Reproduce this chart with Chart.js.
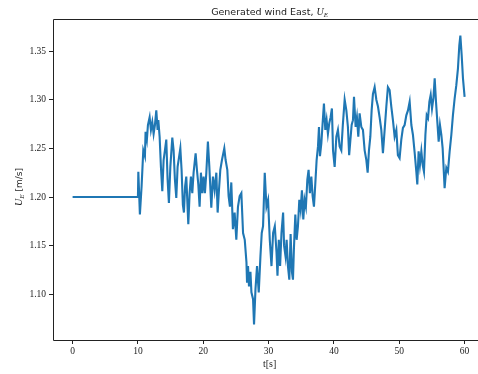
<!DOCTYPE html>
<html>
<head>
<meta charset="utf-8">
<script src="https://cdn.jsdelivr.net/npm/chart.js@4/dist/chart.umd.min.js"></script>
<style>
  html, body { margin: 0; padding: 0; background: #fff; overflow: hidden; }
  canvas { display: block; }
</style>
</head>
<body>
<canvas id="chart" width="478" height="374"></canvas>
<script>
// Time stamps of the generated wind record [s]
const timeS = [
  0, 10.0, 10.06, 10.30, 10.56, 10.82, 11.07, 11.17, 11.37, 11.53,
  11.79, 11.99, 12.20, 12.40, 12.60, 12.81, 13.01, 13.12, 13.32, 13.52,
  13.73, 13.93, 14.13, 14.34, 14.54, 14.74, 14.96, 15.26, 15.46, 15.66,
  15.87, 16.07, 16.27, 16.49, 16.68, 16.88, 17.04, 17.22, 17.40, 17.71,
  17.91, 18.11, 18.32, 18.52, 18.83, 19.03, 19.24, 19.44, 19.64, 19.85,
  20.05, 20.25, 20.47, 20.71, 20.93, 21.23, 21.48, 21.74, 22.00, 22.20,
  22.40, 22.61, 22.86, 23.22, 23.42, 23.68, 23.88, 24.08, 24.29, 24.54,
  24.80, 25.06, 25.31, 25.57, 25.83, 26.09, 26.35, 26.61, 26.70, 26.85,
  27.00, 27.22, 27.37, 27.62, 27.77, 27.99, 28.23, 28.49, 28.75, 28.95,
  29.15, 29.41, 29.67, 29.92, 30.18, 30.44, 30.69, 30.95, 31.21, 31.36,
  31.56, 31.76, 31.97, 32.22, 32.37, 32.59, 32.76, 32.96, 33.17, 33.37,
  33.57, 33.73, 33.87, 34.09, 34.29, 34.49, 34.70, 34.90, 35.10, 35.31,
  35.51, 35.71, 35.93, 36.12, 36.32, 36.54, 36.74, 36.94, 37.15, 37.35,
  37.56, 37.71, 37.86, 38.07, 38.27, 38.47, 38.68, 38.88, 39.08, 39.29,
  39.49, 39.69, 39.86, 40.11, 40.37, 40.61, 40.87, 41.13, 41.36, 41.64,
  41.90, 42.14, 42.33, 42.51, 42.71, 42.91, 43.07, 43.32, 43.52, 43.73,
  43.93, 44.19, 44.44, 44.70, 44.96, 45.16, 45.36, 45.57, 45.77, 45.97,
  46.23, 46.49, 46.74, 46.99, 47.25, 47.50, 47.76, 48.02, 48.26, 48.52,
  48.78, 49.03, 49.29, 49.55, 49.79, 50.05, 50.31, 50.56, 50.82, 51.08,
  51.33, 51.59, 51.85, 52.09, 52.35, 52.61, 52.76, 52.96, 53.16, 53.38,
  53.58, 53.78, 54.00, 54.20, 54.40, 54.61, 54.81, 55.01, 55.23, 55.42,
  55.62, 55.83, 56.03, 56.23, 56.44, 56.64, 56.84, 56.94, 57.20, 57.45,
  57.71, 57.97, 58.21, 58.47, 58.73, 58.98, 59.19, 59.35, 59.55, 59.75,
  60.00
];

// East wind component U_E [m/s]
const windEast = [
  1.200, 1.200, 1.226, 1.182, 1.211, 1.248, 1.242, 1.267, 1.259, 1.274,
  1.282, 1.269, 1.277, 1.265, 1.274, 1.289, 1.269, 1.279, 1.262, 1.231,
  1.206, 1.238, 1.248, 1.259, 1.218, 1.194, 1.231, 1.261, 1.248, 1.218,
  1.199, 1.231, 1.240, 1.250, 1.228, 1.192, 1.184, 1.211, 1.221, 1.172,
  1.204, 1.221, 1.204, 1.225, 1.245, 1.228, 1.213, 1.190, 1.225, 1.204,
  1.221, 1.204, 1.225, 1.257, 1.231, 1.189, 1.221, 1.207, 1.225, 1.184,
  1.207, 1.228, 1.238, 1.250, 1.238, 1.228, 1.201, 1.190, 1.215, 1.167,
  1.184, 1.156, 1.190, 1.201, 1.204, 1.163, 1.156, 1.133, 1.112, 1.129,
  1.108, 1.123, 1.102, 1.095, 1.069, 1.105, 1.129, 1.102, 1.139, 1.163,
  1.170, 1.225, 1.190, 1.197, 1.156, 1.129, 1.163, 1.170, 1.143, 1.119,
  1.156, 1.129, 1.163, 1.184, 1.150, 1.139, 1.156, 1.129, 1.115, 1.162,
  1.123, 1.115, 1.146, 1.182, 1.156, 1.170, 1.197, 1.187, 1.207, 1.177,
  1.197, 1.190, 1.218, 1.228, 1.204, 1.221, 1.201, 1.190, 1.214, 1.238,
  1.252, 1.272, 1.242, 1.255, 1.276, 1.296, 1.269, 1.279, 1.265, 1.276,
  1.282, 1.291, 1.248, 1.231, 1.262, 1.269, 1.252, 1.248, 1.274, 1.300,
  1.289, 1.272, 1.243, 1.258, 1.274, 1.279, 1.303, 1.272, 1.282, 1.262,
  1.286, 1.272, 1.269, 1.248, 1.238, 1.225, 1.248, 1.262, 1.289, 1.306,
  1.313, 1.300, 1.293, 1.282, 1.269, 1.245, 1.269, 1.293, 1.313, 1.310,
  1.293, 1.279, 1.262, 1.269, 1.243, 1.240, 1.259, 1.271, 1.274, 1.284,
  1.289, 1.298, 1.274, 1.264, 1.246, 1.226, 1.213, 1.247, 1.233, 1.247,
  1.233, 1.226, 1.264, 1.284, 1.281, 1.298, 1.305, 1.291, 1.302, 1.322,
  1.298, 1.277, 1.257, 1.274, 1.264, 1.250, 1.223, 1.209, 1.230, 1.226,
  1.247, 1.264, 1.284, 1.301, 1.315, 1.332, 1.356, 1.366, 1.346, 1.322,
  1.303
];

// Axis ticks
const xTicks = [0, 10, 20, 30, 40, 50, 60];
const yTicks = [1.10, 1.15, 1.20, 1.25, 1.30, 1.35];

const points = timeS.map((t, i) => ({ x: t, y: windEast[i] }));

const SERIF = '"Liberation Serif", "DejaVu Serif", serif';
const SANS = '"DejaVu Sans", "Liberation Sans", sans-serif';
const INK = '#222';

// Frame (left, top, bottom), title and axis labels (with the U_E subscript)
const decorations = {
  id: 'decorations',
  afterDraw(chart) {
    const ctx = chart.ctx;
    const a = chart.chartArea;
    ctx.save();
    ctx.strokeStyle = INK;
    ctx.lineWidth = 1;
    ctx.beginPath();
    ctx.moveTo(chart.width, Math.round(a.top) + 0.5);
    ctx.lineTo(Math.round(a.left) + 0.5, Math.round(a.top) + 0.5);
    ctx.lineTo(Math.round(a.left) + 0.5, Math.round(a.bottom) + 0.5);
    ctx.lineTo(chart.width, Math.round(a.bottom) + 0.5);
    ctx.stroke();

    ctx.fillStyle = INK;
    ctx.textBaseline = 'alphabetic';
    ctx.textAlign = 'left';

    // Title, centred over the full axes box
    const tMain = 'Generated wind East, ';
    const fMain = '9.5px ' + SANS;
    const fU = 'italic 10px ' + SERIF;
    const fSub = 'italic 7px ' + SERIF;
    ctx.font = fMain; const w1 = ctx.measureText(tMain).width;
    ctx.font = fU; const w2 = ctx.measureText('U').width;
    ctx.font = fSub; const w3 = ctx.measureText('E').width;
    const xs = chart.scales.x;
    const cx = (xs.getPixelForValue(-3) + xs.getPixelForValue(63)) / 2 + 1;
    let x = cx - (w1 + w2 + w3) / 2;
    const by = 14.5;
    ctx.font = fMain; ctx.fillText(tMain, x, by); x += w1;
    ctx.font = fU; ctx.fillText('U', x, by); x += w2;
    ctx.font = fSub; ctx.fillText('E', x, by + 2);

    // X axis label
    ctx.font = '10px ' + SERIF;
    ctx.textAlign = 'center';
    ctx.fillText('t[s]', cx, 366.5);

    // Y axis label, rotated
    ctx.translate(22, 187);
    ctx.rotate(-Math.PI / 2);
    ctx.textAlign = 'left';
    const fUnit = '9px ' + SANS;
    ctx.font = fU; const u1 = ctx.measureText('U').width;
    ctx.font = fSub; const u2 = ctx.measureText('E').width;
    ctx.font = fUnit; const u3 = ctx.measureText(' [m/s]').width;
    let yx = -(u1 + u2 + u3) / 2;
    ctx.font = fU; ctx.fillText('U', yx, 0); yx += u1;
    ctx.font = fSub; ctx.fillText('E', yx, 2); yx += u2;
    ctx.font = fUnit; ctx.fillText(' [m/s]', yx, 0);
    ctx.restore();
  }
};

new Chart(document.getElementById('chart'), {
  type: 'line',
  data: {
    datasets: [{
      data: points,
      borderColor: '#1f77b4',
      borderWidth: 2.1,
      pointRadius: 0,
      tension: 0,
      fill: false
    }]
  },
  options: {
    responsive: false,
    animation: false,
    devicePixelRatio: 1,
    layout: { padding: { top: 19, right: 0, left: 0, bottom: 0 } },
    plugins: {
      legend: { display: false },
      title: { display: false },
      tooltip: { enabled: false }
    },
    scales: {
      x: {
        type: 'linear',
        min: -3,
        max: 62.05,
        afterBuildTicks: (s) => { s.ticks = xTicks.map(v => ({ value: v })); },
        afterFit: (s) => { s.height = 34; },
        grid: { drawOnChartArea: false, drawTicks: true, tickLength: 4, color: INK, lineWidth: 1 },
        border: { display: false },
        ticks: {
          color: INK,
          font: { family: SERIF, size: 9.5 },
          padding: 2,
          maxRotation: 0,
          callback: (v) => String(v)
        }
      },
      y: {
        type: 'linear',
        min: 1.053,
        max: 1.383,
        afterBuildTicks: (s) => { s.ticks = yTicks.map(v => ({ value: v })); },
        afterFit: (s) => { s.width = 53; },
        grid: { drawOnChartArea: false, drawTicks: true, tickLength: 4, color: INK, lineWidth: 1 },
        border: { display: false },
        ticks: {
          color: INK,
          font: { family: SERIF, size: 9.5 },
          padding: 3,
          callback: (v) => Number(v).toFixed(2)
        }
      }
    }
  },
  plugins: [decorations]
});
</script>
</body>
</html>
